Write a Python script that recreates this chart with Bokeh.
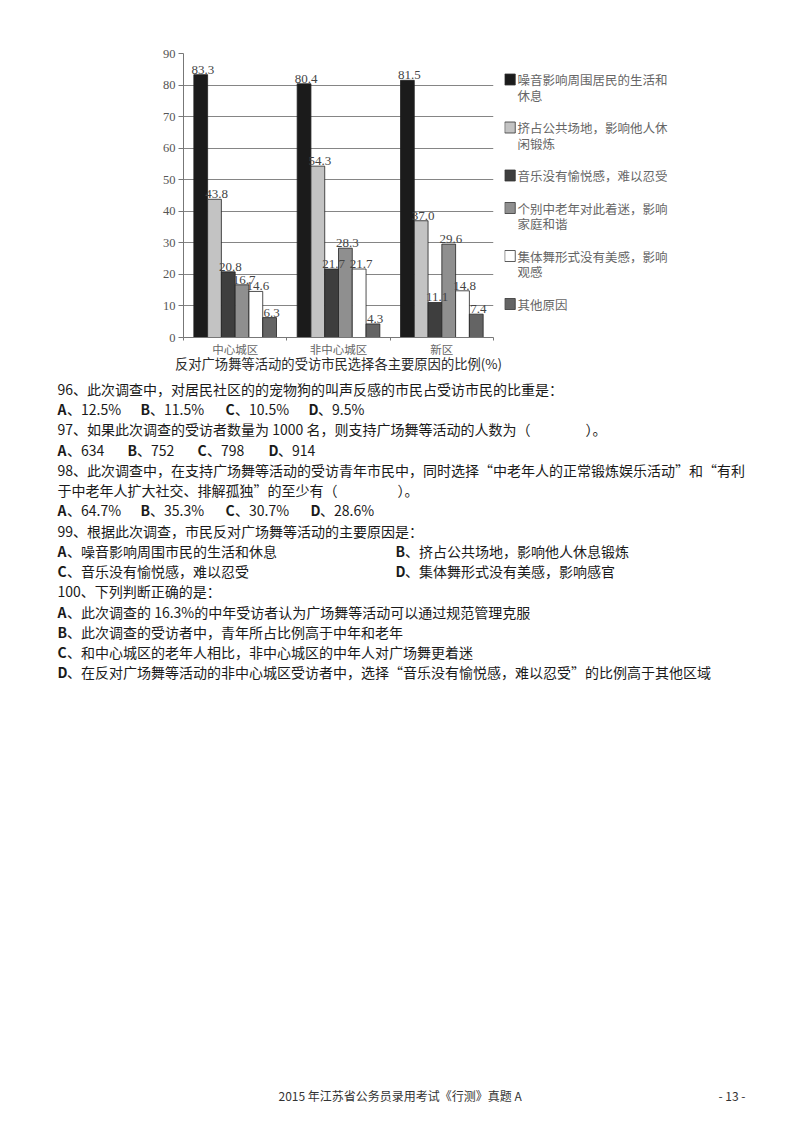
from bokeh.embed import file_html
from bokeh.resources import INLINE
from bokeh.core.properties import value
from bokeh.layouts import column, row
from bokeh.models import (ColumnDataSource, FixedTicker, LinearAxis, Range1d,
                          SingleIntervalTicker)
from bokeh.plotting import figure
from bokeh.transform import dodge

# ---- chart data ----
districts = ["中心城区", "非中心城区", "新区"]
reasons = [
    "噪音影响周围居民的生活和\n休息",
    "挤占公共场地，影响他人休\n闲锻炼",
    "音乐没有愉悦感，难以忍受",
    "个别中老年对此着迷，影响\n家庭和谐",
    "集体舞形式没有美感，影响\n观感",
    "其他原因",
]
noise = [83.3, 80.4, 81.5]
occupy = [43.8, 54.3, 37.0]
music = [20.8, 21.7, 11.1]
obsessed = [16.7, 28.3, 29.6]
no_beauty = [14.6, 21.7, 14.8]
other = [6.3, 4.3, 7.4]
series = [noise, occupy, music, obsessed, no_beauty, other]
chart_title = "反对广场舞等活动的受访市民选择各主要原因的比例(%)"

# ---- page text ----
q96 = "96、此次调查中，对居民社区的的宠物狗的叫声反感的市民占受访市民的比重是："
q96_opts = [("A", "12.5%"), ("B", "11.5%"), ("C", "10.5%"), ("D", "9.5%")]
q97 = "97、如果此次调查的受访者数量为 1000 名，则支持广场舞等活动的人数为（"
q97_opts = [("A", "634"), ("B", "752"), ("C", "798"), ("D", "914")]
q98a = "98、此次调查中，在支持广场舞等活动的受访青年市民中，同时选择“中老年人的正常锻炼娱乐活动”和“有利"
q98b = "于中老年人扩大社交、排解孤独”的至少有（"
q98_opts = [("A", "64.7%"), ("B", "35.3%"), ("C", "30.7%"), ("D", "28.6%")]
q99 = "99、根据此次调查，市民反对广场舞等活动的主要原因是："
q99_opts = [("A", "噪音影响周围市民的生活和休息"), ("B", "挤占公共场地，影响他人休息锻炼"),
            ("C", "音乐没有愉悦感，难以忍受"), ("D", "集体舞形式没有美感，影响感官")]
q100 = "100、下列判断正确的是："
q100_opts = [("A", "此次调查的 16.3%的中年受访者认为广场舞等活动可以通过规范管理克服"),
             ("B", "此次调查的受访者中，青年所占比例高于中年和老年"),
             ("C", "和中心城区的老年人相比，非中心城区的中年人对广场舞更着迷"),
             ("D", "在反对广场舞等活动的非中心城区受访者中，选择“音乐没有愉悦感，难以忍受”的比例高于其他区域")]
footer = "2015 年江苏省公务员录用考试《行测》真题 A"
page_no = "- 13 -"

colors = ["#1b1b1b", "#c3c3c3", "#3e3e3e", "#8f8f8f", "#ffffff", "#646464"]
CJK = "Noto Sans CJK SC"
SERIF = "Liberation Serif"

FRAME_L, FRAME_T, FRAME_W, FRAME_H = 183, 53, 310, 284
TOP_H = 377      # height of the chart row
CHART_W = 504    # width of the chart figure, the legend figure takes the rest
BOTTOM = TOP_H - FRAME_T - FRAME_H


def bare(fig):
    fig.outline_line_color = None
    fig.grid.visible = False
    fig.background_fill_color = "white"
    fig.border_fill_color = "white"


# ---------------- bar chart ----------------
slot = [k + 0.5 for k in range(len(districts))]

p = figure(frame_width=FRAME_W, frame_height=FRAME_H,
           x_range=Range1d(0, len(districts)), y_range=Range1d(0, 90),
           x_axis_location=None,
           min_border_left=FRAME_L, min_border_right=CHART_W - FRAME_L - FRAME_W,
           min_border_top=FRAME_T, min_border_bottom=BOTTOM,
           output_backend="svg", toolbar_location=None)
p.outline_line_color = None
p.xgrid.visible = False
p.ygrid.grid_line_color = "#858585"
p.background_fill_color = "white"
p.border_fill_color = "white"

yax = p.yaxis[0]
yax.ticker = SingleIntervalTicker(interval=10)
yax.major_label_text_font = SERIF
yax.major_label_text_font_size = "12.5px"
yax.major_label_text_color = "#555555"
yax.axis_line_color = "#777777"
yax.major_tick_line_color = "#777777"
yax.major_tick_out = 5
yax.major_tick_in = 0
yax.minor_tick_line_color = None
yax.major_label_standoff = 3

xax = LinearAxis(ticker=FixedTicker(ticks=slot,
                                    minor_ticks=list(range(len(districts) + 1))),
                 major_label_overrides=dict(zip(slot, districts)))
xax.axis_line_color = "#777777"
xax.major_tick_line_color = None
xax.major_tick_out = 0
xax.major_tick_in = 0
xax.minor_tick_line_color = "#777777"
xax.minor_tick_out = 3
xax.minor_tick_in = 0
xax.major_label_text_font = CJK
xax.major_label_text_font_size = "11.5px"
xax.major_label_text_color = "#666666"
xax.major_label_standoff = 0
xax.axis_label = chart_title
xax.axis_label_text_font = CJK
xax.axis_label_text_font_size = "13.3px"
xax.axis_label_text_font_style = "normal"
xax.axis_label_text_color = "#2a2a2a"
xax.axis_label_standoff = -6
p.add_layout(xax, "below")

bw = 0.8 / len(series)
sources = []
for i, (vals, col) in enumerate(zip(series, colors)):
    src = ColumnDataSource(dict(slot=slot, district=districts, pct=vals,
                                txt=[f"{v:.1f}" for v in vals]))
    off = (i - (len(series) - 1) / 2) * bw
    p.vbar(x=dodge("slot", off), top="pct", width=bw, source=src,
           fill_color=col, line_color="#222222", line_width=0.8)
    sources.append((src, off))

# value labels on top of all bars
for src, off in sources:
    p.text(x=dodge("slot", off + 0.02), y="pct", text="txt", source=src,
           text_font=value(SERIF), text_font_size="13px", text_color="#444444",
           text_align="center", text_baseline="bottom", y_offset=-1)

# ---------------- legend (own figure, page pixel coords) ----------------
lg = figure(frame_width=800 - CHART_W, frame_height=FRAME_H,
            x_range=Range1d(CHART_W, 800), y_range=Range1d(FRAME_T + FRAME_H, FRAME_T),
            x_axis_location=None, y_axis_location=None,
            min_border_left=0, min_border_right=0,
            min_border_top=FRAME_T, min_border_bottom=BOTTOM,
            output_backend="svg", toolbar_location=None)
bare(lg)
sq_x, sq_y, tx_x, tx_y, tx = [], [], [], [], []
y = 79.0
for lab in reasons:
    lines = lab.split("\n")
    sq_x.append(CHART_W + 5.5)
    sq_y.append(y)
    for k, ln in enumerate(lines):
        tx_x.append(CHART_W + 13)
        tx_y.append(y + 15.5 * k)
        tx.append(ln)
    y += 15.5 * len(lines) + 17
lg.rect(x=sq_x, y=sq_y, width=10.5, height=11, fill_color=colors,
        line_color="#333333", line_width=0.8)
lg.text(x=tx_x, y=tx_y, text=tx, text_font=value(CJK), text_font_size="12.5px",
        text_color="#666666", text_align="left", text_baseline="middle")

# ---------------- question text (own figure, page pixel coords) ----------------
t = figure(width=800, height=1132 - TOP_H,
           x_range=Range1d(0, 800), y_range=Range1d(1132, TOP_H),
           x_axis_location=None, y_axis_location=None, min_border=0,
           output_backend="svg", toolbar_location=None)
bare(t)

plain = {"x": [], "y": [], "text": []}
bold = {"x": [], "y": [], "text": []}


def put(x, y, txt):
    plain["x"].append(x)
    plain["y"].append(y)
    plain["text"].append(txt)


def option(x, y, letter, rest):
    bold["x"].append(x)
    bold["y"].append(y)
    bold["text"].append(letter)
    put(x + 9.5, y, "、" + rest)


LX = 57
rows = [388.3 + 20.25 * k for k in range(15)]

put(LX, rows[0], q96)
for (l, s), x in zip(q96_opts, [LX, 140, 225, 308]):
    option(x, rows[1], l, s)
put(LX, rows[2], q97)
put(585, rows[2], "）。")
for (l, s), x in zip(q97_opts, [LX, 127, 197, 268]):
    option(x, rows[3], l, s)
put(LX, rows[4], q98a)
put(LX, rows[5], q98b)
put(397, rows[5], "）。")
for (l, s), x in zip(q98_opts, [LX, 140, 225, 310]):
    option(x, rows[6], l, s)
put(LX, rows[7], q99)
option(LX, rows[8], *q99_opts[0])
option(395, rows[8], *q99_opts[1])
option(LX, rows[9], *q99_opts[2])
option(395, rows[9], *q99_opts[3])
put(LX, rows[10], q100)
for k, (l, s) in enumerate(q100_opts):
    option(LX, rows[11 + k], l, s)

t.text(x="x", y="y", text="text", source=ColumnDataSource(plain),
       text_font=value(CJK), text_font_size="14px", text_color="#1a1a1a",
       text_align="left", text_baseline="middle")
t.text(x="x", y="y", text="text", source=ColumnDataSource(bold),
       text_font=value(CJK), text_font_size="14px", text_font_style="bold",
       text_color="#1a1a1a", text_align="left", text_baseline="middle")
t.text(x=[278, 718], y=[1095, 1095], text=[footer, page_no],
       text_font=value(CJK), text_font_size="12px", text_color="#333333",
       text_align="left", text_baseline="middle")

page = column(row(p, lg), t)
open("out.html", "w").write(file_html(page, INLINE))
